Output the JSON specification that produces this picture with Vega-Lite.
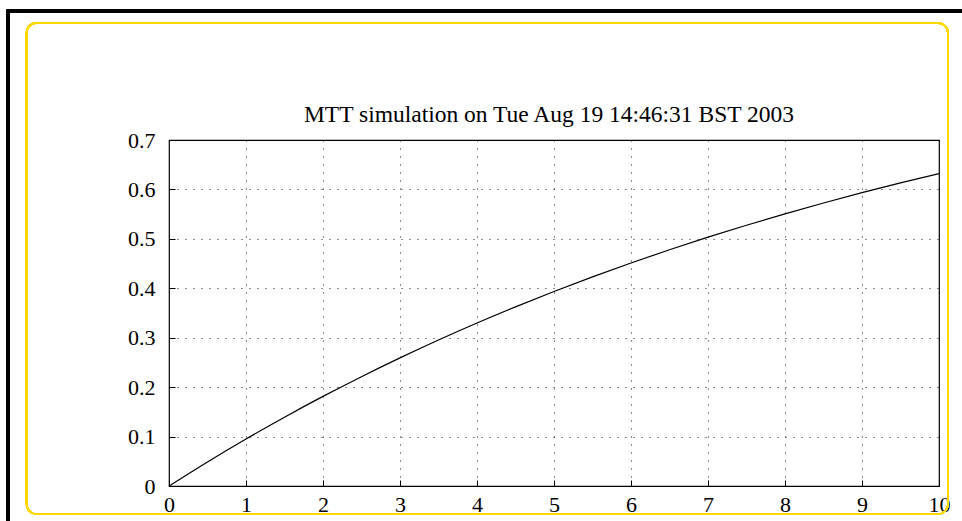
{
  "$schema": "https://vega.github.io/schema/vega-lite/v6.json",
  "autosize": "none",
  "width": 770,
  "height": 346,
  "padding": {"left": 169, "top": 140, "right": 23, "bottom": 35},
  "background": "white",
  "config": {
    "font": "Liberation Serif",
    "view": {"stroke": "black", "strokeWidth": 1.2},
    "axis": {
      "labelFont": "Liberation Serif",
      "labelFontSize": 22,
      "labelColor": "black",
      "domain": false,
      "ticks": true,
      "tickSize": -6,
      "tickColor": "black",
      "grid": true,
      "gridColor": "black",
      "gridDash": [1, 7],
      "gridWidth": 1,
      "gridOpacity": 0.9,
      "title": null
    }
  },
  "title": {
    "text": "MTT simulation on Tue Aug 19 14:46:31 BST 2003",
    "font": "Liberation Serif",
    "fontSize": 23.5,
    "fontWeight": "normal",
    "color": "black",
    "baseline": "alphabetic",
    "offset": 0,
    "dy": 136,
    "dx": -5,
    "anchor": "middle"
  },
  "data": {
    "values": [
      {"t": 0, "v": 0},
      {"t": 0.5, "v": 0.04877},
      {"t": 1, "v": 0.09516},
      {"t": 1.5, "v": 0.13929},
      {"t": 2, "v": 0.18127},
      {"t": 2.5, "v": 0.2212},
      {"t": 3, "v": 0.25918},
      {"t": 3.5, "v": 0.29531},
      {"t": 4, "v": 0.32968},
      {"t": 4.5, "v": 0.36237},
      {"t": 5, "v": 0.39347},
      {"t": 5.5, "v": 0.42305},
      {"t": 6, "v": 0.45119},
      {"t": 6.5, "v": 0.47795},
      {"t": 7, "v": 0.50341},
      {"t": 7.5, "v": 0.52763},
      {"t": 8, "v": 0.55067},
      {"t": 8.5, "v": 0.57258},
      {"t": 9, "v": 0.59343},
      {"t": 9.5, "v": 0.61326},
      {"t": 10, "v": 0.63212}
    ]
  },
  "layer": [
    {
      "mark": {"type": "line", "color": "black", "strokeWidth": 1.2, "interpolate": "monotone"},
      "encoding": {
        "x": {
          "field": "t",
          "type": "quantitative",
          "scale": {"domain": [0, 10], "nice": false},
          "axis": {"values": [0,1,2,3,4,5,6,7,8,9,10], "labelBaseline": "alphabetic", "labelPadding": 31, "format": "d", "labelFlush": false}
        },
        "y": {
          "field": "v",
          "type": "quantitative",
          "scale": {"domain": [0, 0.7], "nice": false, "zero": false},
          "axis": {"values": [0,0.1,0.2,0.3,0.4,0.5,0.6,0.7], "labelPadding": 20, "labelBaseline": "middle", "labelFlush": false, "format": "~g"}
        }
      }
    },
    {
      "mark": {"type": "rect", "fill": null, "stroke": "#ffd800", "strokeWidth": 1.6, "cornerRadius": 10, "clip": false},
      "encoding": {
        "x": {"datum": -1.85, "type": "quantitative"},
        "x2": {"datum": 10.117},
        "y": {"datum": 0.9367, "type": "quantitative"},
        "y2": {"datum": -0.0566}
      }
    },
    {
      "mark": {"type": "rect", "fill": null, "stroke": "black", "strokeWidth": 2.5, "clip": false},
      "encoding": {
        "x": {"datum": -2.091, "type": "quantitative"},
        "x2": {"datum": 10.8},
        "y": {"datum": 0.961, "type": "quantitative"},
        "y2": {"datum": -0.3}
      }
    }
  ]
}
